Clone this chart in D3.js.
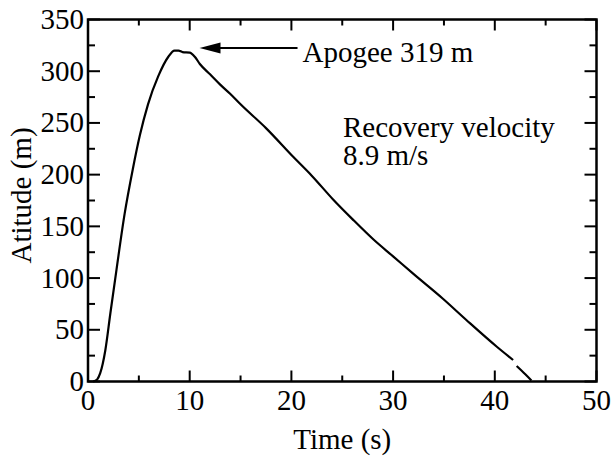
<!DOCTYPE html>
<html>
<head>
<meta charset="utf-8">
<script src="https://cdn.jsdelivr.net/npm/d3@7"></script>
<style>
  body { margin: 0; background: #fff; }
</style>
</head>
<body>
<div id="chart"></div>
<script>
// flight data (time in s, altitude in m); null = gap in trace
var timeS = [0.5, 0.9, 1.2, 1.7, 2.2, 2.8, 3.6, 4.4, 5.1, 5.9, 6.9, 7.9, 8.5, 8.9, 9.3, 10.0, 10.5, 11.0,
  12.0, 13.0, 14.0, 15.0, 17.5, 20.2, 22.0, 24.1, 26.0, 28.1, 30.0, 32.0, 34.9, 37.2, 40.2, 41.8,
  42.0, 42.15, 43.0, 43.6];
var altitudeM = [0, 2, 8, 30, 66, 108, 162, 205, 238, 268, 295, 314, 320, 320, 318.5, 318, 314, 307,
  297, 287, 278, 268, 245, 217, 199, 176, 157, 137, 121, 104, 80, 59.5, 33.6, 20.8,
  null, 15, 7, 1];

var xTicks = [0, 10, 20, 30, 40, 50];
var yTicks = [0, 50, 100, 150, 200, 250, 300, 350];
var xMinor = [5, 15, 25, 35, 45];
var yMinor = [25, 75, 125, 175, 225, 275, 325];

var apogeeLabel = "Apogee 319 m";
var apogee = { t: 9.0, h: 319 };
var noteLines = ["Recovery velocity", "8.9 m/s"];

var data = timeS.map(function (t, i) { return { t: t, h: altitudeM[i] }; });

var W = 611, H = 457;
var margin = { top: 19.5, right: 14.5, bottom: 75.5, left: 88 },
    width = W - margin.left - margin.right,
    height = H - margin.top - margin.bottom;

var FONT = "'Liberation Serif', 'Times New Roman', serif";
var fs = 29;

var svg = d3.select("#chart")
    .append("svg")
    .attr("width", W)
    .attr("height", H)
    .attr("font-family", FONT)
    .append("g")
    .attr("transform", "translate(" + margin.left + "," + margin.top + ")");

var x = d3.scaleLinear().domain([0, 50]).range([0, width]);
var y = d3.scaleLinear().domain([0, 350]).range([height, 0]);

// inward ticks on all four sides
function ticks(axis, vals, len) {
    var g = svg.append("g").attr("stroke", "#000").attr("stroke-width", 2);
    vals.forEach(function (v) {
        if (axis === "x") {
            g.append("line").attr("x1", x(v)).attr("x2", x(v)).attr("y1", height).attr("y2", height - len);
            g.append("line").attr("x1", x(v)).attr("x2", x(v)).attr("y1", 0).attr("y2", len);
        } else {
            g.append("line").attr("y1", y(v)).attr("y2", y(v)).attr("x1", 0).attr("x2", len);
            g.append("line").attr("y1", y(v)).attr("y2", y(v)).attr("x1", width).attr("x2", width - len);
        }
    });
}
ticks("x", xTicks, 11);
ticks("x", xMinor, 6);
ticks("y", yTicks, 12);
ticks("y", yMinor, 7);

// frame
svg.append("rect")
    .attr("x", 0).attr("y", 0)
    .attr("width", width).attr("height", height)
    .attr("fill", "none")
    .attr("stroke", "#000")
    .attr("stroke-width", 2.5);

function label(sel) {
    return sel.style("font-family", FONT).style("font-size", fs + "px").attr("fill", "#000");
}

// tick labels
label(svg.selectAll(".xl").data(xTicks).enter().append("text"))
    .attr("x", function (d) { return x(d); })
    .attr("y", height + 28)
    .attr("text-anchor", "middle")
    .text(function (d) { return d; });

label(svg.selectAll(".yl").data(yTicks).enter().append("text"))
    .attr("x", -4)
    .attr("y", function (d) { return y(d) + 9.5; })
    .attr("text-anchor", "end")
    .text(function (d) { return d; });

// the trace
var line = d3.line()
    .defined(function (d) { return d.h !== null; })
    .x(function (d) { return x(d.t); })
    .y(function (d) { return y(d.h); })
    .curve(d3.curveMonotoneX);

svg.append("path")
    .datum(data)
    .attr("fill", "none")
    .attr("stroke", "#000")
    .attr("stroke-width", 2.2)
    .attr("d", line);

// apogee arrow + label
var ax = x(apogee.t) + 20, ay = y(apogee.h) - 3.5;
svg.append("line")
    .attr("x1", ax + 18).attr("y1", ay)
    .attr("x2", ax + 98).attr("y2", ay)
    .attr("stroke", "#000").attr("stroke-width", 2);
svg.append("path")
    .attr("d", "M" + ax + "," + ay + "L" + (ax + 21) + "," + (ay - 5.5) + "L" + (ax + 21) + "," + (ay + 5.5) + "Z")
    .attr("fill", "#000");
label(svg.append("text"))
    .attr("x", ax + 103)
    .attr("y", ay + 14)
    .text(apogeeLabel);

noteLines.forEach(function (d, i) {
    label(svg.append("text"))
        .attr("x", 255)
        .attr("y", 117 + i * 28)
        .text(d);
});

// axis titles
label(svg.append("text"))
    .attr("x", width / 2)
    .attr("y", height + 67)
    .attr("text-anchor", "middle")
    .text("Time (s)");

label(svg.append("text"))
    .attr("transform", "rotate(-90)")
    .attr("x", -176)
    .attr("y", -margin.left + 31)
    .attr("text-anchor", "middle")
    .text("Atitude (m)");
</script>
</body>
</html>
